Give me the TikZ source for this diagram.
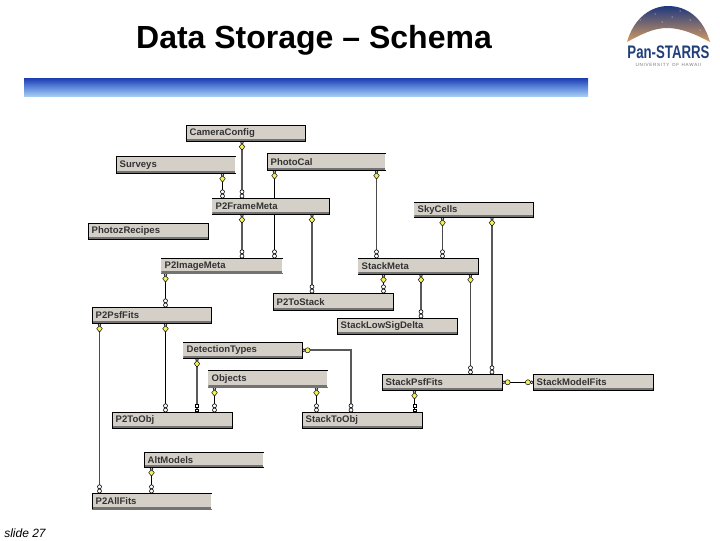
\documentclass[tikz,border=0pt]{standalone}
\usepackage{fontspec}
\usepackage{graphicx}
\setmainfont{Liberation Sans}
\usetikzlibrary{arrows.meta,calc,backgrounds}
\definecolor{tablegray}{HTML}{D4D0C8}
\definecolor{panblue}{HTML}{1F3F7A}
\definecolor{bartop}{HTML}{1C3CB0}
\definecolor{barmid}{HTML}{5C86DC}
\definecolor{barbot}{HTML}{A4CCF2}
\definecolor{logotop}{HTML}{16337F}
\definecolor{logomid}{HTML}{5A7AA8}
\definecolor{logobot}{HTML}{DDA060}
\definecolor{keyyellow}{HTML}{F4F05A}
\tikzset{
  x=0.75pt,y=-0.75pt,
  edgeline/.style={draw=black,line width=0.75pt},
  sideT/.style={append after command={(\tikzlastnode.north west) edge[edgeline] (\tikzlastnode.north east)}},
  sideB/.style={append after command={(\tikzlastnode.south west) edge[edgeline] (\tikzlastnode.south east)}},
  sideL/.style={append after command={(\tikzlastnode.north west) edge[edgeline] (\tikzlastnode.south west)}},
  sideR/.style={append after command={(\tikzlastnode.north east) edge[edgeline] (\tikzlastnode.south east)}},
  sideG/.style={append after command={(\tikzlastnode.south west) edge[draw=black!55,line width=0.9pt] (\tikzlastnode.south east)}},
  tablebox/.style={fill=tablegray,inner xsep=2.6pt,inner ysep=0pt,anchor=north west,align=left,
    font=\fontsize{7.15pt}{8pt}\selectfont\bfseries,text=black!80,
    path picture={\draw[black!55,line width=0.9pt]
      ([yshift=0.9pt]path picture bounding box.south west) -- ([yshift=0.9pt]path picture bounding box.south east);}},
  keytip/.tip={Diamond[length=5.6pt,width=4.6pt,fill=keyyellow,color=black,line width=0.35pt,sep=-1.2pt] Circle[length=2.6pt,width=2.6pt,fill=white,color=black,line width=0.4pt,sep=-0.3pt]},
  manytip/.tip={Circle[length=3.5pt,width=3.4pt,fill=white,color=black,line width=0.45pt,sep=-0.3pt] Circle[length=3.5pt,width=3.4pt,fill=white,color=black,line width=0.45pt,sep=-0.3pt]},
  squaretip/.tip={Square[length=2.5pt,width=2.8pt,fill=white,color=black,line width=0.45pt,sep=0.7pt] Square[length=2.5pt,width=2.8pt,fill=white,color=black,line width=0.45pt]},
  roundtip/.tip={Circle[length=4.2pt,width=4.2pt,fill=keyyellow,color=black,line width=0.35pt,sep=-0.6pt] Circle[length=2.6pt,width=2.6pt,fill=white,color=black,line width=0.4pt,sep=-0.3pt]},
  linkblack/.style={draw=black,line width=0.75pt},
  linkthick/.style={draw=black!65,line width=1.5pt},
  linkgray/.style={draw=black!70,line width=1pt},
}
\newcommand{\tablenode}[7]{%
  \node[tablebox,#7,minimum height={(#5-#3)*0.75pt},text width={(#4-#2)*0.75pt-5.2pt}] (#1) at (#2,#3) {\raisebox{-1.4pt}{#6}};}
\newcommand{\vlink}[5][keytip-manytip]{%
  \coordinate (vx) at (#5,0);
  \draw[#1,#2] (#3.south -| vx) -- (#4.north -| vx);}
\begin{document}
\begin{tikzpicture}
\useasboundingbox (0,0) rectangle (720,540);
% header
\node[font=\fontsize{24pt}{28pt}\selectfont\bfseries,text=black,inner sep=0pt] (title) at (314,40) {Data Storage – Schema};
\shade[top color=bartop,bottom color=barbot,middle color=barmid] (24,78) rectangle (588,96);
% logo
\begin{scope}
\clip (627,42) .. controls (634,17) and (652,6) .. (668,6) .. controls (686,6) and (703,17) .. (710,42)
  .. controls (697,35) and (682,28) .. (667,28) .. controls (653,28) and (640,35) .. (627,42) -- cycle;
\shade[top color=logotop,middle color=logomid,bottom color=logobot] (620,4) rectangle (715,44);
\fill[white] (640,20) circle (.5) (655,14) circle (.5) (672,17) circle (.5) (690,20) circle (.5) (680,11) circle (.5) (700,30) circle (.5) (662,22) circle (.5);
\end{scope}
\node[font=\fontsize{13.6pt}{14pt}\selectfont\bfseries,text=panblue,inner sep=0pt] (logotext) at (668.5,52.5) {\scalebox{.73}[1]{Pan-STARRS}};
\node[font=\fontsize{3.4pt}{4pt}\selectfont,text=black!55,inner sep=0pt] (logosub) at (668.5,64.5) {U\,N\,I\,V\,E\,R\,S\,I\,T\,Y\ \ O\,F\ \ H\,A\,W\,A\,I\,I};
\node[font=\fontsize{9pt}{11pt}\selectfont\itshape,inner sep=0pt,anchor=west] (slide) at (4,533) {slide 27};
% tables
\tablenode{cam}{186}{125}{305}{141}{CameraConfig}{sideT,sideL,sideR,sideB}
\tablenode{surveys}{116}{156}{235}{173}{Surveys}{sideT,sideL,sideB}
\tablenode{photocal}{267}{153}{385}{170}{PhotoCal}{sideT,sideL,sideB}
\tablenode{frame}{212}{198}{329}{214}{P2FrameMeta}{sideT,sideR,sideB}
\tablenode{recipes}{88}{223}{208}{239}{PhotozRecipes}{sideT,sideL,sideR,sideB}
\tablenode{image}{161}{258}{282}{273}{P2ImageMeta}{sideT,sideG}
\tablenode{sky}{414}{202}{533}{217}{SkyCells}{sideT,sideR,sideB}
\tablenode{stackmeta}{358}{258}{478}{274}{StackMeta}{sideT,sideR,sideB}
\tablenode{tostack}{273}{293}{393}{310}{P2ToStack}{sideT,sideL,sideR,sideB}
\tablenode{lowsig}{337}{318}{457}{334}{StackLowSigDelta}{sideT,sideL,sideR,sideB}
\tablenode{psf}{92}{307}{211}{323}{P2PsfFits}{sideT,sideL,sideR,sideB}
\tablenode{det}{183}{342}{302}{358}{DetectionTypes}{sideT,sideR,sideB}
\tablenode{obj}{208}{370}{327}{387}{Objects}{sideT,sideG}
\tablenode{toobj}{112}{412}{232}{428}{P2ToObj}{sideT,sideL,sideR,sideB}
\tablenode{alt}{144}{452}{263}{467}{AltModels}{sideT,sideL,sideB}
\tablenode{allfits}{92}{493}{211}{509}{P2AllFits}{sideT,sideL,sideG}
\tablenode{stacktoobj}{302}{412}{422}{428}{StackToObj}{sideT,sideL,sideR,sideB}
\tablenode{stackpsf}{382}{374}{502}{390}{StackPsfFits}{sideT,sideL,sideR,sideB}
\tablenode{model}{533}{374}{653}{390}{StackModelFits}{sideT,sideL,sideR,sideB}
% connectors
\begin{pgfonlayer}{background}
\vlink{linkthick}{cam}{frame}{242}
\vlink{linkblack}{surveys}{frame}{222.5}
\vlink{linkblack}{photocal}{image}{274.5}
\vlink{linkthick}{frame}{image}{242}
\vlink{linkthick}{frame}{tostack}{312}
\vlink{linkgray}{photocal}{stackmeta}{376.5}
\vlink{linkgray}{sky}{stackmeta}{442.5}
\vlink{linkthick}{sky}{stackpsf}{492}
\vlink{linkblack}{stackmeta}{tostack}{383.5}
\vlink{linkthick}{stackmeta}{lowsig}{421}
\vlink{linkgray}{stackmeta}{stackpsf}{470.5}
\vlink{linkblack}{image}{psf}{165.5}
\vlink{linkgray}{psf}{allfits}{99.5}
\vlink{linkblack}{psf}{toobj}{165.5}
\vlink[keytip-squaretip]{linkthick}{det}{toobj}{197}
\vlink{linkblack}{obj}{toobj}{214.5}
\vlink{linkblack}{obj}{stacktoobj}{316.5}
\vlink{linkblack}{alt}{allfits}{151.5}
\vlink[keytip-squaretip]{linkblack}{stackpsf}{stacktoobj}{414.5}
\coordinate (elbow) at (351,0);
\draw[roundtip-manytip,linkthick] (det.east) -| (stacktoobj.north -| elbow);
\draw[roundtip-roundtip,linkblack,line width=1pt] (stackpsf.east) -- (model.west);
\end{pgfonlayer}
\end{tikzpicture}
\end{document}
